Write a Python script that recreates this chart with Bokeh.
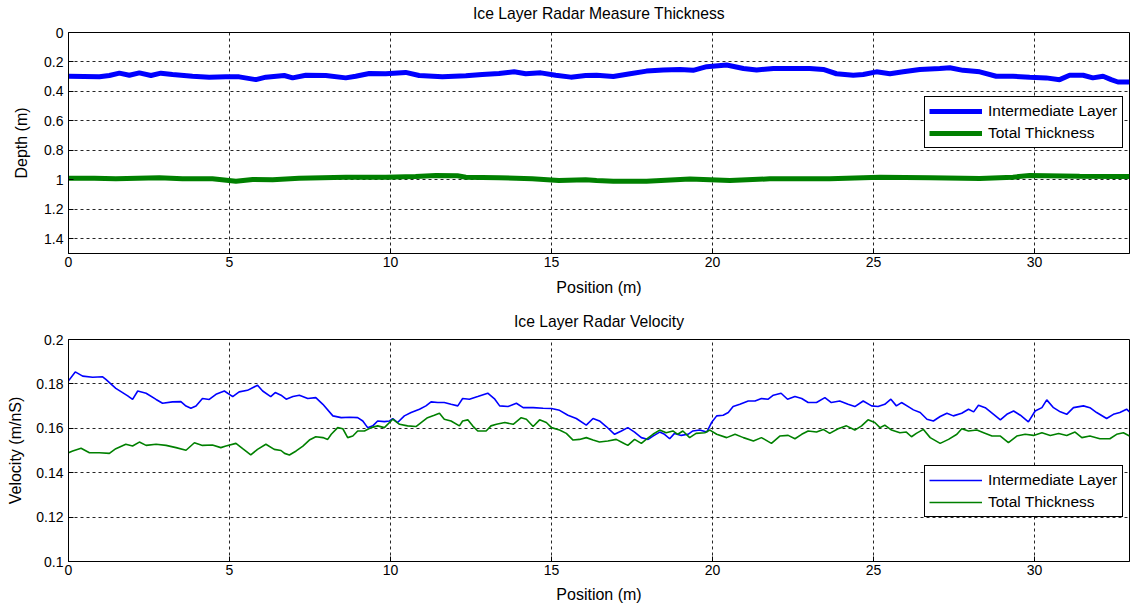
from bokeh.plotting import figure
from bokeh.layouts import column
from bokeh.models import Range1d, FixedTicker, Legend, LegendItem, LinearAxis
from bokeh.embed import file_html
from bokeh.resources import INLINE

# ---------------- data ----------------
x_ticks = [0, 5, 10, 15, 20, 25, 30]
x_labels = ["0", "5", "10", "15", "20", "25", "30"]
depth_ticks = [0, 0.2, 0.4, 0.6, 0.8, 1.0, 1.2, 1.4]
depth_labels = ["0", "0.2", "0.4", "0.6", "0.8", "1", "1.2", "1.4"]
vel_ticks = [0.1, 0.12, 0.14, 0.16, 0.18, 0.2]
vel_labels = ["0.1", "0.12", "0.14", "0.16", "0.18", "0.2"]
series_names = ["Intermediate Layer", "Total Thickness"]

# top: depth (m)
pos_depth_int = [0.00, 0.96, 1.27, 1.58, 1.89, 2.20, 2.56, 2.87, 3.23, 3.85, 4.37, 4.89, 5.30, 5.82,
                 6.13, 6.70, 6.96, 7.37, 7.99, 8.61, 8.92, 9.34, 9.85, 10.47, 10.89, 11.61, 12.34,
                 12.85, 13.37, 13.84, 14.20, 14.67, 15.13, 15.60, 16.06, 16.40, 16.92, 17.44, 17.95,
                 18.47, 18.99, 19.40, 19.82, 20.44, 20.96, 21.37, 21.89, 22.40, 23.02, 23.44, 23.85,
                 24.37, 24.68, 25.09, 25.51, 25.92, 26.44, 27.06, 27.37, 27.78, 28.30, 28.81, 29.33,
                 29.85, 30.36, 30.78, 31.09, 31.51, 31.81, 32.13, 32.38, 32.59, 32.95]
depth_int = [0.297, 0.301, 0.292, 0.276, 0.290, 0.274, 0.292, 0.276, 0.285, 0.297, 0.303, 0.301, 0.301,
             0.320, 0.303, 0.292, 0.308, 0.290, 0.292, 0.308, 0.297, 0.278, 0.280, 0.271, 0.292, 0.301,
             0.294, 0.285, 0.278, 0.267, 0.280, 0.274, 0.290, 0.303, 0.292, 0.290, 0.299, 0.280, 0.262,
             0.255, 0.251, 0.257, 0.232, 0.221, 0.244, 0.255, 0.244, 0.244, 0.244, 0.251, 0.280, 0.290,
             0.285, 0.267, 0.280, 0.267, 0.251, 0.244, 0.239, 0.257, 0.267, 0.297, 0.297, 0.303, 0.308,
             0.320, 0.290, 0.290, 0.308, 0.297, 0.320, 0.336, 0.336]
pos_depth_tot = [0.00, 0.80, 1.47, 2.82, 3.54, 4.47, 5.20, 5.72, 6.34, 7.16, 8.61, 9.23, 9.85, 10.78,
                 11.41, 12.08, 12.34, 13.37, 14.40, 15.23, 16.06, 16.40, 16.92, 17.95, 19.30, 20.54,
                 21.78, 23.64, 25.20, 26.75, 28.30, 29.33, 29.85, 31.40, 32.59, 32.95]
depth_tot = [0.989, 0.989, 0.993, 0.986, 0.993, 0.993, 1.009, 0.998, 1.000, 0.989, 0.982, 0.982, 0.982,
             0.977, 0.970, 0.972, 0.982, 0.986, 0.993, 1.005, 1.000, 1.005, 1.009, 1.009, 0.995, 1.005,
             0.993, 0.993, 0.982, 0.986, 0.991, 0.982, 0.970, 0.975, 0.977, 0.977]

# bottom: velocity (m/nS)
pos_vel_int = [0.00, 0.21, 0.44, 0.75, 1.06, 1.16, 1.47, 1.84, 1.99, 2.15, 2.41, 2.72, 2.92, 3.23, 3.49,
               3.65, 3.80, 3.96, 4.16, 4.37, 4.58, 4.84, 5.10, 5.30, 5.56, 5.87, 6.03, 6.28, 6.42, 6.60,
               6.76, 6.97, 7.17, 7.43, 7.68, 7.90, 8.21, 8.47, 8.73, 8.98, 9.14, 9.29, 9.45, 9.60, 9.81,
               9.97, 10.07, 10.22, 10.43, 10.64, 10.90, 11.10, 11.26, 11.47, 11.67, 11.88, 12.09, 12.24,
               12.45, 12.71, 13.02, 13.24, 13.39, 13.65, 13.91, 14.12, 14.43, 14.74, 15.00, 15.25, 15.51,
               15.77, 16.08, 16.29, 16.49, 16.70, 16.96, 17.17, 17.37, 17.58, 17.79, 18.00, 18.15, 18.36,
               18.51, 18.67, 18.82, 19.03, 19.24, 19.39, 19.60, 19.82, 19.97, 20.13, 20.33, 20.49, 20.64,
               20.85, 21.11, 21.32, 21.52, 21.73, 21.89, 22.13, 22.33, 22.56, 22.77, 22.97, 23.23, 23.49,
               23.69, 23.95, 24.21, 24.42, 24.68, 24.94, 25.14, 25.35, 25.54, 25.71, 25.87, 26.13, 26.24,
               26.45, 26.66, 26.86, 27.07, 27.28, 27.48, 27.74, 27.95, 28.11, 28.26, 28.47, 28.73, 28.94,
               29.14, 29.35, 29.56, 29.81, 30.02, 30.23, 30.38, 30.59, 30.80, 31.00, 31.21, 31.52, 31.72,
               31.93, 32.24, 32.45, 32.65, 32.86, 32.95]
vel_int = [0.1814, 0.1854, 0.1835, 0.1830, 0.1832, 0.1820, 0.1780, 0.1746, 0.1730, 0.1768, 0.1758, 0.1730,
           0.1713, 0.1719, 0.1720, 0.1700, 0.1690, 0.1700, 0.1734, 0.1730, 0.1753, 0.1768, 0.1743, 0.1764,
           0.1771, 0.1794, 0.1768, 0.1743, 0.1761, 0.1749, 0.1731, 0.1743, 0.1749, 0.1734, 0.1738, 0.1708,
           0.1656, 0.1648, 0.1650, 0.1648, 0.1633, 0.1603, 0.1611, 0.1633, 0.1630, 0.1633, 0.1644, 0.1626,
           0.1656, 0.1671, 0.1686, 0.1701, 0.1719, 0.1716, 0.1716, 0.1708, 0.1701, 0.1734, 0.1731, 0.1743,
           0.1758, 0.1731, 0.1701, 0.1698, 0.1713, 0.1693, 0.1693, 0.1690, 0.1689, 0.1681, 0.1659, 0.1644,
           0.1614, 0.1644, 0.1633, 0.1608, 0.1573, 0.1588, 0.1603, 0.1583, 0.1558, 0.1550, 0.1565, 0.1583,
           0.1573, 0.1553, 0.1577, 0.1568, 0.1573, 0.1588, 0.1592, 0.1583, 0.1626, 0.1656, 0.1659, 0.1671,
           0.1698, 0.1708, 0.1723, 0.1723, 0.1734, 0.1731, 0.1749, 0.1758, 0.1731, 0.1743, 0.1734, 0.1716,
           0.1716, 0.1738, 0.1716, 0.1723, 0.1708, 0.1698, 0.1723, 0.1701, 0.1698, 0.1708, 0.1731, 0.1701,
           0.1716, 0.1693, 0.1683, 0.1671, 0.1641, 0.1633, 0.1653, 0.1668, 0.1656, 0.1668, 0.1686, 0.1674,
           0.1704, 0.1693, 0.1663, 0.1638, 0.1663, 0.1678, 0.1659, 0.1629, 0.1678, 0.1693, 0.1728, 0.1693,
           0.1674, 0.1663, 0.1693, 0.1701, 0.1693, 0.1671, 0.1644, 0.1663, 0.1671, 0.1686, 0.1674]
pos_vel_tot = [0.00, 0.13, 0.39, 0.65, 0.96, 1.27, 1.47, 1.78, 1.99, 2.20, 2.41, 2.72, 3.03, 3.34, 3.65,
               3.91, 4.16, 4.47, 4.73, 4.89, 5.20, 5.41, 5.66, 5.87, 6.13, 6.39, 6.60, 6.71, 6.86, 7.07,
               7.28, 7.48, 7.68, 7.90, 8.05, 8.16, 8.36, 8.52, 8.67, 8.83, 8.98, 9.19, 9.40, 9.60, 9.81,
               10.07, 10.28, 10.53, 10.79, 10.95, 11.15, 11.36, 11.52, 11.67, 11.88, 12.14, 12.24, 12.40,
               12.55, 12.71, 12.97, 13.12, 13.29, 13.55, 13.81, 14.06, 14.22, 14.43, 14.63, 14.84, 15.00,
               15.25, 15.46, 15.67, 15.87, 16.08, 16.29, 16.49, 16.75, 17.01, 17.21, 17.37, 17.58, 17.79,
               17.94, 18.15, 18.36, 18.56, 18.77, 18.92, 19.08, 19.29, 19.49, 19.76, 19.92, 20.13, 20.44,
               20.70, 20.96, 21.27, 21.52, 21.83, 22.09, 22.35, 22.56, 22.77, 22.97, 23.23, 23.44, 23.64,
               23.90, 24.16, 24.42, 24.63, 24.83, 25.04, 25.20, 25.35, 25.56, 25.82, 26.02, 26.18, 26.33,
               26.55, 26.76, 27.07, 27.33, 27.59, 27.74, 27.95, 28.21, 28.42, 28.68, 28.94, 29.19, 29.45,
               29.71, 29.97, 30.23, 30.49, 30.75, 31.00, 31.26, 31.47, 31.72, 32.03, 32.34, 32.55, 32.76,
               32.95]
vel_tot = [0.1490, 0.1498, 0.1510, 0.1490, 0.1490, 0.1487, 0.1508, 0.1528, 0.1520, 0.1538, 0.1523, 0.1528,
           0.1523, 0.1513, 0.1501, 0.1535, 0.1523, 0.1525, 0.1513, 0.1520, 0.1532, 0.1508, 0.1480, 0.1505,
           0.1528, 0.1505, 0.1500, 0.1487, 0.1480, 0.1498, 0.1520, 0.1547, 0.1562, 0.1558, 0.1550, 0.1573,
           0.1603, 0.1598, 0.1558, 0.1565, 0.1588, 0.1588, 0.1603, 0.1611, 0.1603, 0.1641, 0.1618, 0.1611,
           0.1608, 0.1626, 0.1648, 0.1659, 0.1668, 0.1641, 0.1633, 0.1611, 0.1633, 0.1638, 0.1611, 0.1588,
           0.1588, 0.1611, 0.1618, 0.1626, 0.1618, 0.1648, 0.1641, 0.1608, 0.1638, 0.1626, 0.1603, 0.1592,
           0.1577, 0.1547, 0.1550, 0.1558, 0.1547, 0.1538, 0.1543, 0.1550, 0.1535, 0.1523, 0.1550, 0.1532,
           0.1550, 0.1573, 0.1592, 0.1580, 0.1588, 0.1573, 0.1588, 0.1558, 0.1577, 0.1580, 0.1592, 0.1573,
           0.1558, 0.1573, 0.1558, 0.1543, 0.1558, 0.1532, 0.1565, 0.1568, 0.1553, 0.1573, 0.1588, 0.1583,
           0.1595, 0.1577, 0.1598, 0.1611, 0.1592, 0.1611, 0.1638, 0.1626, 0.1603, 0.1614, 0.1592, 0.1580,
           0.1583, 0.1562, 0.1577, 0.1595, 0.1558, 0.1532, 0.1550, 0.1573, 0.1598, 0.1588, 0.1592, 0.1580,
           0.1565, 0.1565, 0.1535, 0.1565, 0.1573, 0.1568, 0.1580, 0.1568, 0.1577, 0.1568, 0.1583, 0.1558,
           0.1565, 0.1553, 0.1553, 0.1573, 0.1580, 0.1565]

# ---------------- styling ----------------
FONT = "Liberation Sans"
BLUE = "#0000FF"
GREEN = "#008000"
W = 1130


def make_fig(title, height, border_top, border_bottom, y_range, y_ticks, y_labels, y_label,
             ylabel_standoff, xlabel_standoff, title_standoff):
    p = figure(width=W, height=height, output_backend="svg", toolbar_location=None,
               x_range=Range1d(0, 32.95), y_range=y_range,
               min_border_left=68, min_border_right=1,
               min_border_top=border_top, min_border_bottom=border_bottom)
    p.outline_line_color = "black"
    p.outline_line_width = 1
    p.outline_line_alpha = 1
    p.background_fill_color = "white"
    p.border_fill_color = "white"

    xax = p.below[0]
    yax = p.left[0]
    for ax, ticks, labels, lab in ((xax, x_ticks, x_labels, "Position (m)"),
                                   (yax, y_ticks, y_labels, y_label)):
        ax.ticker = FixedTicker(ticks=ticks)
        ax.major_label_overrides = {t: l for t, l in zip(ticks, labels)}
        ax.minor_tick_line_color = None
        ax.major_tick_in = 5
        ax.major_tick_out = 0
        ax.axis_line_color = "black"
        ax.major_tick_line_color = "black"
        ax.major_label_text_font = FONT
        ax.major_label_text_font_size = "14px"
        ax.major_label_text_color = "#000000"
        ax.axis_label = lab
        ax.axis_label_text_font = FONT
        ax.axis_label_text_font_size = "16px"
        ax.axis_label_text_font_style = "normal"
        ax.axis_label_text_color = "#000000"
    xax.major_label_standoff = 3
    xax.axis_label_standoff = xlabel_standoff
    yax.major_label_standoff = 5
    yax.axis_label_standoff = ylabel_standoff

    for g in (p.xgrid[0], p.ygrid[0]):
        g.grid_line_color = "black"
        g.grid_line_dash = "3 3"
        g.grid_line_width = 1
        g.grid_line_alpha = 0.85

    # chart title drawn as the label of a tick-less axis above the frame
    tax = LinearAxis(ticker=FixedTicker(ticks=[]), axis_label=title,
                     axis_line_color=None, major_tick_line_color=None, minor_tick_line_color=None,
                     major_label_standoff=0, major_tick_in=0, major_tick_out=0,
                     major_label_text_font_size="1px",
                     axis_label_standoff=title_standoff, axis_label_text_font=FONT,
                     axis_label_text_font_size="15.7px", axis_label_text_font_style="normal",
                     axis_label_text_color="#000000")
    p.add_layout(tax, "above")
    return p


def add_legend(p, renderers, loc):
    leg = Legend(items=[LegendItem(label=n, renderers=[r]) for n, r in zip(series_names, renderers)],
                 location=loc)
    leg.border_line_color = "black"
    leg.border_line_width = 1
    leg.border_line_alpha = 1
    leg.background_fill_color = "white"
    leg.background_fill_alpha = 1
    leg.label_text_font = FONT
    leg.label_text_font_size = "15.5px"
    leg.label_text_color = "#000000"
    leg.glyph_width = 53
    leg.glyph_height = 20
    leg.label_height = 20
    leg.label_width = 130
    leg.label_standoff = 6
    leg.padding = 4
    leg.spacing = 2
    leg.margin = 0
    p.add_layout(leg, "center")


p1 = make_fig("Ice Layer Radar Measure Thickness", 300, 32, 47, Range1d(1.5, 0),
              depth_ticks, depth_labels, "Depth (m)", 11, 9, 11)
r1 = p1.line(pos_depth_int, depth_int, line_color=BLUE, line_width=5)
r2 = p1.line(pos_depth_tot, depth_tot, line_color=GREEN, line_width=5)
add_legend(p1, [r1, r2], (856, 105))

p2 = make_fig("Ice Layer Radar Velocity", 307, 39, 46, Range1d(0.1, 0.2),
              vel_ticks, vel_labels, "Velocity (m/nS)", 9, 8, 10)
r3 = p2.line(pos_vel_int, vel_int, line_color=BLUE, line_width=1.6)
r4 = p2.line(pos_vel_tot, vel_tot, line_color=GREEN, line_width=1.6)
add_legend(p2, [r3, r4], (856, 44))

layout = column(p1, p2, spacing=0)
open("out.html", "w").write(file_html(layout, INLINE))
